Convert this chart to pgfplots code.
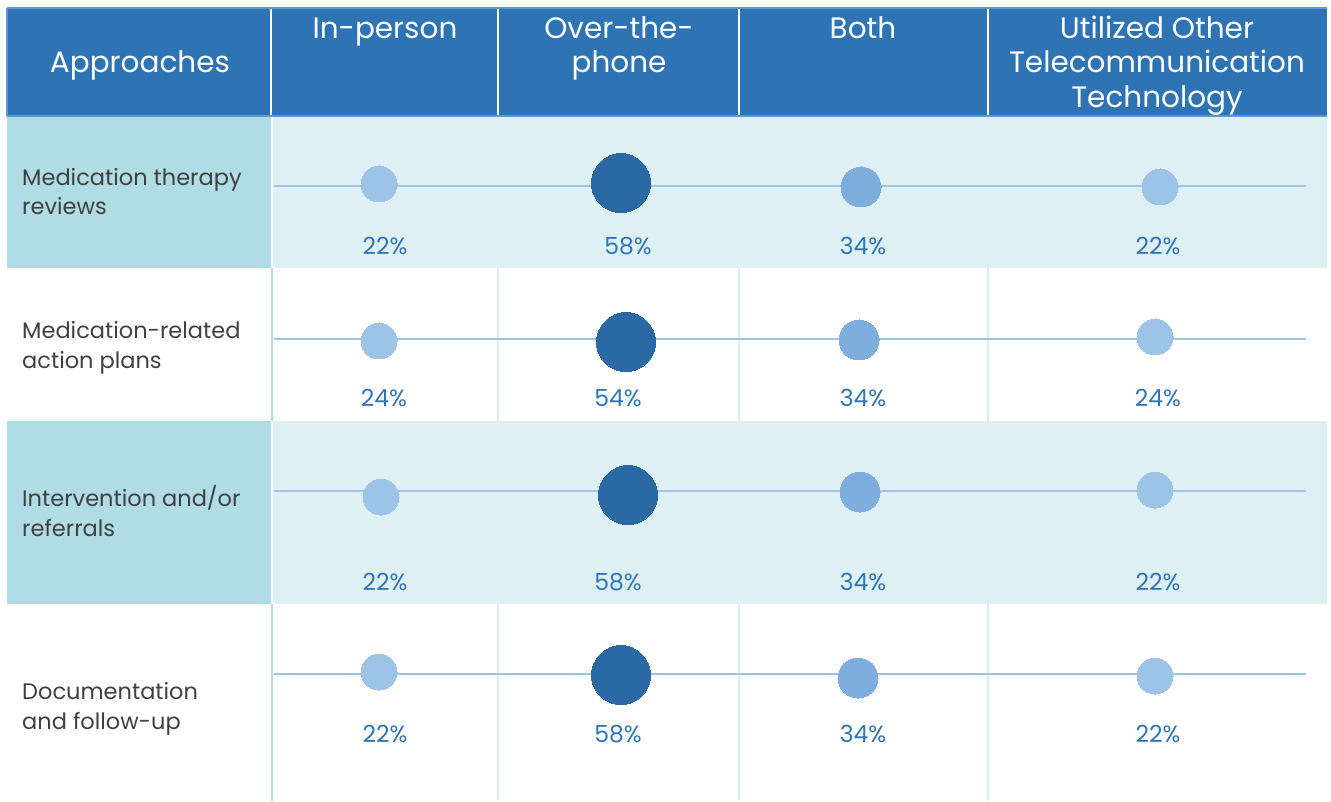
\documentclass[border=0pt]{standalone}
\usepackage{pgfplots}
\pgfplotsset{compat=1.18}
\usepackage{pgfplotstable}
\usepackage{fontspec}
\setmainfont{Poppins}
\definecolor{hdr}{HTML}{2E74B5}
\definecolor{hdrline}{HTML}{5B9BD5}
\definecolor{tealbg}{HTML}{B0DDE5}
\definecolor{shadebg}{HTML}{DFF0F5}
\definecolor{gridl}{HTML}{DCEEF3}
\definecolor{rowline}{HTML}{9DC3E6}
\definecolor{blight}{HTML}{9DC3E6}
\definecolor{bmed}{HTML}{7EAEDD}
\definecolor{bdark}{HTML}{2B69A5}
\definecolor{pct}{HTML}{2E75B6}
\definecolor{txt}{HTML}{404040}

% columns: bubble centre (x,y), radius r (px), value v, label baseline (lx,ly)
\pgfplotstableread{
x y r v lx ly
379 184 18 22 385 255
379 341 18 24 384 406
381 497 18 22 385 590
379 672 18 22 385 742
}\inperson
\pgfplotstableread{
x y r v lx ly
621 183 29.5 58 628 255
626 342 29.5 54 618 406
628 495 29.5 58 618 590
621 675 29.5 58 618 742
}\overphone
\pgfplotstableread{
x y r v lx ly
861 187 20 34 863 255
859 340 20 34 863 406
860 492 20 34 863 590
858 678 20 34 863 742
}\both
\pgfplotstableread{
x y r v lx ly
1160 187 18 22 1158 255
1155 337 18 24 1158 406
1155 490 18 22 1158 590
1155 676 18 22 1158 742
}\other

\pgfplotsset{
  bubble/.style={scatter, only marks, mark=*,
    point meta=\thisrow{v},
    scatter/use mapped color={draw=#1, fill=#1},
    mark options={line width=0pt},
    visualization depends on={\thisrow{r} \as \rad},
    scatter/@pre marker code/.append style={/tikz/mark size=\rad}},
  pctlab/.style={only marks, mark=*, mark size=0pt,
    mark options={draw=none, fill=none},
    point meta=explicit symbolic,
    nodes near coords={\pgfplotspointmeta\%},
    nodes near coords style={anchor=base, inner sep=0pt, text=pct,
      font=\fontsize{23.5}{27}\selectfont}},
}

\begin{document}
\begin{tikzpicture}
\begin{axis}[
  x=1pt, y=1pt, y dir=reverse,
  xmin=0, xmax=1331, ymin=0, ymax=801,
  hide axis, clip=false, scale only axis,
]
% overall box
\path (axis cs:0,0) rectangle (axis cs:1331,801);
% header
\fill[hdr] (axis cs:7,8) rectangle (axis cs:1327,116);
\draw[hdrline, line width=1.5pt] (axis cs:7,8) -- (axis cs:1327,8);
\draw[hdrline, line width=1.5pt] (axis cs:7,116) -- (axis cs:1327,116);
\draw[hdrline, line width=1.5pt] (axis cs:7,8) -- (axis cs:7,116);
\foreach \xx in {271,498,739,988}{
  \edef\tmp{\noexpand\draw[white, line width=2pt] (axis cs:\xx,9) -- (axis cs:\xx,115);}\tmp
}
% shaded rows
\fill[tealbg] (axis cs:7,117) rectangle (axis cs:271,268);
\fill[shadebg] (axis cs:273,117) rectangle (axis cs:1327,268);
\fill[tealbg] (axis cs:7,421) rectangle (axis cs:271,604);
\fill[shadebg] (axis cs:273,421) rectangle (axis cs:1327,604);
% vertical lines in white rows
\draw[tealbg, line width=2pt] (axis cs:272,268) -- (axis cs:272,421);
\draw[tealbg, line width=2pt] (axis cs:272,604) -- (axis cs:272,801);
\foreach \xx in {498,739,988}{
  \edef\tmp{\noexpand\draw[gridl, line width=1.5pt] (axis cs:\xx,268) -- (axis cs:\xx,421);
  \noexpand\draw[gridl, line width=1.5pt] (axis cs:\xx,604) -- (axis cs:\xx,801);}\tmp
}
% row lines
\foreach \yy in {186,339,491,674}{
  \edef\tmp{\noexpand\draw[rowline, line width=1.3pt] (axis cs:274,\yy) -- (axis cs:1306,\yy);}\tmp
}
% header text
\begin{scope}[every node/.style={anchor=base, text=white, inner sep=0pt,
   font=\fontsize{29.5}{34}\selectfont}]
\node at (axis cs:140,73) {Approaches};
\node at (axis cs:385,39) {In-person};
\node at (axis cs:619,39) {Over-the-};
\node at (axis cs:619,73) {phone};
\node at (axis cs:863,39) {Both};
\node at (axis cs:1157,39) {Utilized Other};
\node at (axis cs:1157,73) {Telecommunication};
\node at (axis cs:1157,108) {Technology};
\end{scope}
% row labels
\begin{scope}[every node/.style={anchor=base west, text=txt, inner sep=0pt,
   font=\fontsize{22.5}{29}\selectfont}]
\node at (axis cs:22,186) {Medication therapy};
\node at (axis cs:22,215) {reviews};
\node at (axis cs:22,339) {Medication-related};
\node at (axis cs:22,368) {action plans};
\node at (axis cs:22,506) {Intervention and/or};
\node at (axis cs:22,536) {referrals};
\node at (axis cs:22,699) {Documentation};
\node at (axis cs:22,729) {and follow-up};
\end{scope}
% bubbles
\addplot[bubble=blight] table[x=x, y=y] {\inperson};
\addplot[bubble=bdark]  table[x=x, y=y] {\overphone};
\addplot[bubble=bmed]   table[x=x, y=y] {\both};
\addplot[bubble=blight] table[x=x, y=y] {\other};
% percentage labels
\addplot[pctlab] table[x=lx, y=ly, meta=v] {\inperson};
\addplot[pctlab] table[x=lx, y=ly, meta=v] {\overphone};
\addplot[pctlab] table[x=lx, y=ly, meta=v] {\both};
\addplot[pctlab] table[x=lx, y=ly, meta=v] {\other};
\end{axis}
\end{tikzpicture}
\end{document}
